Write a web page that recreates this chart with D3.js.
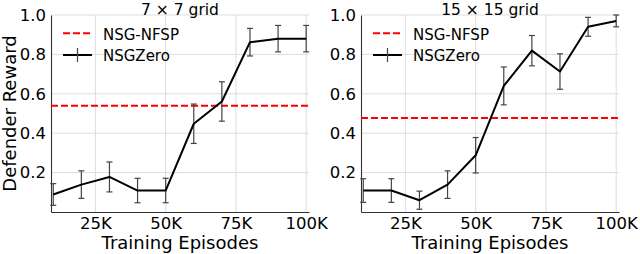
<!DOCTYPE html>
<html>
<head>
<meta charset="utf-8">
<script src="https://cdn.jsdelivr.net/npm/d3@7"></script>
<style>
  body { margin: 0; background: #fff; }
  svg { display: block; font-family: "DejaVu Sans", sans-serif; }
</style>
</head>
<body>
<svg id="chart" width="640" height="254"></svg>
<script>
// episodes (K) shared by both panels
var episodes = [10, 20, 30, 40, 50, 60, 70, 80, 90, 100];

// 7 x 7 grid
var zero7 = [0.089, 0.139, 0.178, 0.109, 0.109, 0.448, 0.561, 0.862, 0.880, 0.880];
var err7  = [0.055, 0.070, 0.076, 0.062, 0.062, 0.100, 0.100, 0.070, 0.067, 0.067];
var nfsp7 = 0.539;

// 15 x 15 grid
var zero15 = [0.109, 0.109, 0.060, 0.139, 0.288, 0.640, 0.819, 0.713, 0.940, 0.970];
var err15  = [0.060, 0.060, 0.046, 0.070, 0.090, 0.096, 0.077, 0.090, 0.048, 0.030];
var nfsp15 = 0.477;

var xTicks = [25, 50, 75, 100];
var yTicks = [0.2, 0.4, 0.6, 0.8, 1.0];
var titles = ["7 \u00d7 7 grid", "15 \u00d7 15 grid"];

var svg = d3.select("#chart");

function drawPanel(left, title, vals, errs, nfsp, showYLabel) {
  var w = 258, top = 15, bottom = 212;
  var x = d3.scaleLinear().domain([9.2, 101]).range([left, left + w]);
  var y = d3.scaleLinear().domain([0, 1]).range([bottom, top]);
  var g = svg.append("g");

  // grid
  g.selectAll("line.gx").data(xTicks).enter().append("line")
      .attr("x1", function(d) { return x(d); }).attr("x2", function(d) { return x(d); })
      .attr("y1", top).attr("y2", bottom)
      .style("stroke", "#dddddd").style("stroke-width", 1);
  g.selectAll("line.gy").data(yTicks).enter().append("line")
      .attr("x1", left).attr("x2", left + w)
      .attr("y1", function(d) { return y(d); }).attr("y2", function(d) { return y(d); })
      .style("stroke", "#dddddd").style("stroke-width", 1);

  // axes
  var xa = g.append("g").attr("transform", "translate(0," + bottom + ")")
      .call(d3.axisBottom(x).tickValues(xTicks).tickSize(0).tickPadding(5)
            .tickFormat(function(d) { return d + "K"; }));
  var ya = g.append("g").attr("transform", "translate(" + left + ",0)")
      .call(d3.axisLeft(y).tickValues(yTicks).tickSize(0).tickPadding(5)
            .tickFormat(d3.format(".1f")));
  [xa, ya].forEach(function(a) {
    a.select(".domain").style("stroke", "#333").style("stroke-width", 1.1);
    a.selectAll("text").style("font-size", "16.5px").style("fill", "#000")
      .style("font-family", "DejaVu Sans");
  });

  // baseline
  g.append("line")
      .attr("x1", left).attr("x2", left + w)
      .attr("y1", y(nfsp)).attr("y2", y(nfsp))
      .style("stroke", "#ff0000").style("stroke-width", 2)
      .style("stroke-dasharray", "7,3");

  // error bars
  var eb = g.selectAll("g.eb").data(vals).enter().append("g");
  eb.append("line")
      .attr("x1", function(d, i) { return x(episodes[i]); })
      .attr("x2", function(d, i) { return x(episodes[i]); })
      .attr("y1", function(d, i) { return y(d - errs[i]); })
      .attr("y2", function(d, i) { return y(d + errs[i]); });
  eb.append("line")
      .attr("x1", function(d, i) { return x(episodes[i]) - 3; })
      .attr("x2", function(d, i) { return x(episodes[i]) + 3; })
      .attr("y1", function(d, i) { return y(d - errs[i]); })
      .attr("y2", function(d, i) { return y(d - errs[i]); });
  eb.append("line")
      .attr("x1", function(d, i) { return x(episodes[i]) - 3; })
      .attr("x2", function(d, i) { return x(episodes[i]) + 3; })
      .attr("y1", function(d, i) { return y(d + errs[i]); })
      .attr("y2", function(d, i) { return y(d + errs[i]); });
  eb.selectAll("line").style("stroke", "#444").style("stroke-width", 1.2);

  // main line
  var line = d3.line()
      .x(function(d, i) { return x(episodes[i]); })
      .y(function(d) { return y(d); });
  g.append("path").datum(vals)
      .attr("d", line)
      .style("fill", "none").style("stroke", "#000").style("stroke-width", 2)
      .style("stroke-linejoin", "round");

  // title
  g.append("text")
      .attr("x", left + w / 2).attr("y", 14.5)
      .attr("text-anchor", "middle")
      .style("font-size", "15.5px")
      .text(title);

  // legend
  var lx = left + 12;
  g.append("line")
      .attr("x1", lx).attr("x2", lx + 29).attr("y1", 33.3).attr("y2", 33.3)
      .style("stroke", "#ff0000").style("stroke-width", 2).style("stroke-dasharray", "7,3");
  g.append("text").attr("x", lx + 40).attr("y", 40)
      .style("font-size", "15px").text("NSG-NFSP");
  g.append("line")
      .attr("x1", lx).attr("x2", lx + 29).attr("y1", 55).attr("y2", 55)
      .style("stroke", "#000").style("stroke-width", 2);
  g.append("line")
      .attr("x1", lx + 14.5).attr("x2", lx + 14.5).attr("y1", 48).attr("y2", 62)
      .style("stroke", "#444").style("stroke-width", 1.2);
  g.append("text").attr("x", lx + 40).attr("y", 60.7)
      .style("font-size", "15px").text("NSGZero");

  // x label
  g.append("text")
      .attr("x", left + w / 2).attr("y", 248.5)
      .attr("text-anchor", "middle")
      .style("font-size", "18px")
      .text("Training Episodes");

  if (showYLabel) {
    g.append("text")
        .attr("transform", "translate(15.5," + ((top + bottom) / 2) + ") rotate(-90)")
        .attr("text-anchor", "middle")
        .style("font-size", "18px")
        .text("Defender Reward");
  }
}

drawPanel(51, titles[0], zero7, err7, nfsp7, true);
drawPanel(361, titles[1], zero15, err15, nfsp15, false);
</script>
</body>
</html>
